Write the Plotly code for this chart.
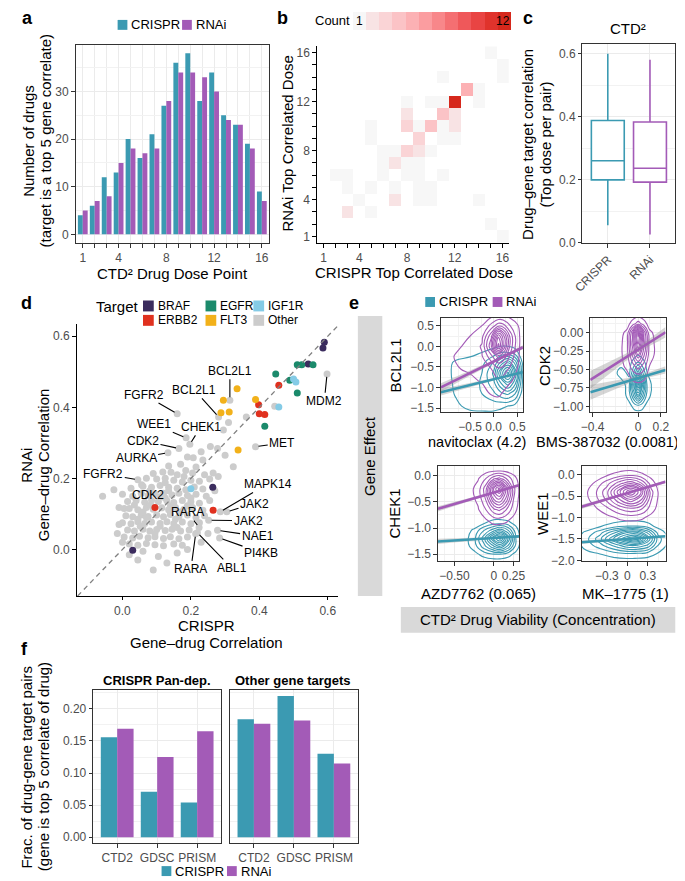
import plotly.graph_objects as go

W, H = 685, 881
FONT = "Liberation Sans, Arial, Helvetica, sans-serif"
CRISPR_COL = "#3B9AB2"
RNAI_COL = "#A35BB7"
TICK_COL = "#4D4D4D"
GRID = "#EBEBEB"
BORDER = "#333333"

# ---------------- data: panel a ----------------
dose_points = list(range(1, 17))
dose_labelled = [1, 4, 8, 12, 16]
a_crispr = [4, 6, 12, 13, 20, 16, 21, 27, 36, 38, 28, 34, 25, 23, 19, 9]
a_rnai = [5, 7, 8, 15, 18, 17, 18, 28, 34, 34, 33, 30, 24, 23, 18, 7]

# ---------------- data: panel b ----------------
b_crispr_dose = [3, 5,
                 4, 7, 9, 10, 14,
                 3, 5, 7, 9, 10,
                 2, 3, 6, 8, 9, 11,
                 6, 7, 8, 9,
                 6, 7, 8, 9, 10,
                 5, 9, 11, 12,
                 5, 8, 9, 10, 11, 12,
                 8, 11, 12,
                 8, 10, 11, 12, 14,
                 13, 14,
                 11, 16, 16, 15,
                 15, 16]
b_rnai_dose = [3, 3,
               4, 4, 4, 4, 4,
               5, 5, 5, 5, 5,
               6, 6, 6, 6, 6, 6,
               7, 7, 7, 7,
               8, 8, 8, 8, 8,
               9, 9, 9, 9,
               10, 10, 10, 10, 10, 10,
               11, 11, 11,
               12, 12, 12, 12, 12,
               13, 13,
               14, 14, 15, 16,
               2, 1]
b_count = [2, 1,
           1, 2, 1, 1, 1,
           1, 1, 1, 1, 1,
           1, 1, 1, 1, 1, 1,
           1, 2, 1, 1,
           1, 1, 3, 2, 1,
           1, 3, 1, 1,
           1, 3, 1, 4, 1, 2,
           2, 4, 2,
           1, 1, 1, 12, 1,
           5, 1,
           1, 1, 1, 1,
           1, 1]
count_palette = ["#F7F7F7", "#F8E3E4", "#FAD4D6", "#FBC3C6", "#FCB1B4", "#FB9DA0",
                 "#F8878A", "#F46F72", "#EF585A", "#E94443", "#E0332C", "#D6281C"]

# ---------------- data: panel c ----------------
box_groups = ["CRISPR", "RNAi"]
box_lower = [0.055, 0.025]
box_q1 = [0.199, 0.192]
box_median = [0.260, 0.236]
box_q3 = [0.388, 0.383]
box_upper = [0.600, 0.581]

# ---------------- data: panel d ----------------
braf_x = [0.590, 0.586, 0.543, 0.264, 0.030]
braf_y = [0.583, 0.567, 0.522, 0.175, -0.002]
egfr_x = [0.448, 0.511, 0.524, 0.557, 0.489, 0.511, 0.416]
egfr_y = [0.494, 0.520, 0.520, 0.520, 0.476, 0.440, 0.347]
igf1r_x = [0.500, 0.507, 0.457, 0.200]
igf1r_y = [0.480, 0.471, 0.401, 0.171]
erbb2_x = [0.457, 0.398, 0.400, 0.416, 0.265, 0.095]
erbb2_y = [0.462, 0.407, 0.382, 0.380, 0.110, 0.118]
flt3_x = [0.335, 0.295, 0.389, 0.288, 0.312, 0.338]
flt3_y = [0.452, 0.420, 0.422, 0.385, 0.387, 0.280]

other_xy = [
    (-0.058, 0.150), (-0.025, 0.168), (0.005, 0.115), (-0.010, 0.070), (0.000, 0.020), (-0.015, 0.045),
    (0.020, -0.015), (0.045, -0.030), (0.090, -0.058), (0.130, -0.038), (0.060, -0.005), (0.105, -0.020),
    (0.160, -0.010), (0.190, 0.000), (0.230, 0.020), (0.250, 0.045),
    (0.295, 0.336), (0.310, 0.357), (0.362, 0.373), (0.278, 0.284), (0.257, 0.290), (0.324, 0.233),
    (0.207, 0.258), (0.235, 0.252), (0.300, 0.265), (0.190, 0.260), (0.230, 0.275), (0.445, 0.403),
    (0.265, 0.215), (0.280, 0.205),
    (0.135, 0.235), (0.170, 0.240), (0.215, 0.232),
    (0.090, 0.214), (0.118, 0.218), (0.142, 0.217), (0.160, 0.210), (0.185, 0.222), (0.205, 0.215), (0.240, 0.210),
    (0.070, 0.200), (0.100, 0.198), (0.125, 0.200), (0.150, 0.195), (0.175, 0.190), (0.200, 0.195), (0.225, 0.192), (0.255, 0.198),
    (0.025, 0.172), (0.060, 0.178), (0.085, 0.175), (0.110, 0.180), (0.135, 0.175), (0.160, 0.172), (0.185, 0.168),
    (0.210, 0.176), (0.235, 0.170), (0.270, 0.165),
    (0.000, 0.155), (0.030, 0.150), (0.055, 0.158), (0.075, 0.152), (0.095, 0.157), (0.120, 0.158), (0.145, 0.153),
    (0.165, 0.158), (0.190, 0.152), (0.215, 0.155), (0.245, 0.150),
    (0.015, 0.135), (0.040, 0.138), (0.065, 0.133), (0.085, 0.138), (0.105, 0.135), (0.130, 0.137), (0.150, 0.132),
    (0.175, 0.138), (0.200, 0.134), (0.225, 0.130), (0.255, 0.138),
    (-0.010, 0.118), (0.020, 0.115), (0.045, 0.112), (0.070, 0.118), (0.090, 0.113), (0.115, 0.117), (0.135, 0.112),
    (0.155, 0.118), (0.180, 0.113), (0.205, 0.118), (0.235, 0.110),
    (0.010, 0.095), (0.030, 0.092), (0.055, 0.097), (0.075, 0.093), (0.100, 0.097), (0.120, 0.092), (0.140, 0.098),
    (0.165, 0.093), (0.190, 0.097), (0.215, 0.090), (0.240, 0.095),
    (0.000, 0.075), (0.025, 0.072), (0.045, 0.078), (0.065, 0.073), (0.085, 0.077), (0.110, 0.073), (0.130, 0.078),
    (0.150, 0.072), (0.175, 0.077), (0.200, 0.072), (0.225, 0.075),
    (0.015, 0.055), (0.035, 0.052), (0.060, 0.057), (0.080, 0.052), (0.100, 0.056), (0.125, 0.053), (0.145, 0.057),
    (0.170, 0.052), (0.195, 0.055),
    (0.005, 0.035), (0.030, 0.032), (0.050, 0.037), (0.075, 0.033), (0.095, 0.036), (0.120, 0.031), (0.140, 0.036),
    (0.165, 0.030), (0.190, 0.035),
    (0.020, 0.015), (0.045, 0.012), (0.070, 0.017), (0.095, 0.013), (0.120, 0.010), (0.150, 0.015), (0.175, 0.012),
    (0.082, 0.125), (0.125, 0.145), (0.060, 0.105), (0.170, 0.105), (0.045, 0.085), (0.110, 0.065), (0.155, 0.085),
    (0.095, 0.045), (0.135, 0.165), (0.200, 0.145), (0.035, 0.125), (0.070, 0.090), (0.140, 0.122), (0.190, 0.123),
    (0.080, 0.165), (0.110, 0.148), (0.052, 0.065), (0.160, 0.062), (0.125, 0.188), (0.180, 0.205),
]

label_genes = ["MDM2", "MET", "BCL2L1", "BCL2L1", "FGFR2", "WEE1", "CHEK1", "CDK2", "AURKA", "FGFR2",
               "CDK2", "MAPK14", "JAK2", "JAK2", "RARA", "NAE1", "PI4KB", "ABL1", "RARA"]
label_x = [0.598, 0.389, 0.314, 0.281, 0.160, 0.186, 0.197, 0.165, 0.133, 0.045,
           0.056, 0.286, 0.305, 0.252, 0.224, 0.278, 0.284, 0.219, 0.214]
label_y = [0.494, 0.289, 0.420, 0.373, 0.382, 0.314, 0.296, 0.284, 0.272, 0.196,
           0.182, 0.106, 0.106, 0.082, 0.062, 0.054, 0.032, 0.047, 0.044]

# label text placement (layout, data coordinates of panel d)
label_text_pos = [(0.590, 0.417), (0.467, 0.300), (0.314, 0.503), (0.210, 0.449), (0.062, 0.436),
                  (0.093, 0.352), (0.229, 0.345), (0.060, 0.306), (0.040, 0.257), (-0.056, 0.213),
                  (0.075, 0.152), (0.424, 0.184), (0.386, 0.129), (0.367, 0.081), (0.190, 0.105),
                  (0.395, 0.037), (0.405, -0.009), (0.319, -0.052), (0.200, -0.056)]

# ---------------- data: panel e (estimated density grids) ----------------
e_gene = ["BCL2L1", "CDK2", "CHEK1", "WEE1"]
e_drug = ["navitoclax (4.2)", "BMS-387032 (0.0081)", "AZD7762 (0.065)", "MK\u20131775 (1)"]

nav_rnai_gx = [-1.1, -0.8, -0.5, -0.25, -0.05, 0.1, 0.2, 0.35, 0.5, 0.65]
nav_rnai_gy = [-1.45, -1.15, -0.85, -0.55, -0.25, 0.0, 0.25, 0.5, 0.8]
nav_rnai_z = [
    [0, 0, 0, 0, 0, 0, 0, 0, 0, 0],
    [0, 0, 0, 0, 0.7, 0.8, 0.5, 0, 0, 0],
    [0, 0, 0.3, 0.7, 1.1, 1.3, 1.1, 0.7, 0.3, 0],
    [0, 0.5, 0.8, 1.0, 1.5, 2.2, 2.0, 1.3, 0.6, 0],
    [0, 0.7, 1.0, 1.4, 3.0, 4.5, 4.0, 2.2, 0.8, 0],
    [0, 0.4, 0.9, 1.6, 5.0, 10, 7.0, 3.0, 0.9, 0],
    [0, 0.2, 0.6, 1.2, 4.0, 8.5, 6.5, 3.0, 0.9, 0],
    [0, 0, 0.2, 0.6, 1.8, 3.0, 2.8, 1.5, 0.7, 0],
    [0, 0, 0, 0, 0, 0, 0, 0, 0, 0]]
nav_crispr_gx = [-1.1, -0.8, -0.5, -0.25, 0.0, 0.15, 0.3, 0.45, 0.62]
nav_crispr_gy = [-1.75, -1.45, -1.15, -0.9, -0.65, -0.4, -0.15, 0.1]
nav_crispr_z = [
    [0, 0, 0, 0, 0, 0, 0, 0, 0],
    [0, 0.4, 0.9, 1.0, 1.0, 0.8, 0.6, 0.3, 0],
    [0, 0.7, 1.1, 1.5, 2.2, 3.0, 3.5, 2.5, 0],
    [0, 0.8, 1.1, 1.6, 3.0, 5.0, 6.5, 4.5, 0.3],
    [0, 0.9, 1.1, 1.5, 3.5, 7.0, 10, 6.0, 0.5],
    [0, 0.8, 1.0, 1.2, 2.5, 4.5, 6.0, 4.0, 0.3],
    [0, 0, 0.3, 0.6, 1.0, 1.5, 1.5, 1.0, 0],
    [0, 0, 0, 0, 0, 0, 0, 0, 0]]

bms_rnai_gx = [-0.2, -0.1, -0.05, 0.0, 0.05, 0.1, 0.2]
bms_rnai_gy = [-0.8, -0.6, -0.45, -0.3, -0.15, 0.0, 0.12, 0.25]
bms_rnai_z = [
    [0, 0, 0, 0, 0, 0, 0],
    [0, 0.3, 0.8, 1.0, 0.8, 0.3, 0],
    [0, 0.8, 2.0, 3.0, 2.0, 0.6, 0],
    [0, 1.0, 3.5, 6.0, 3.5, 1.0, 0],
    [0, 1.0, 4.5, 9.0, 4.5, 1.0, 0],
    [0, 0.8, 4.0, 10, 4.0, 0.8, 0],
    [0, 0.2, 1.0, 2.0, 1.0, 0.2, 0],
    [0, 0, 0, 0, 0, 0, 0]]
bms_crispr_gx = [-0.22, -0.15, -0.08, -0.03, 0.0, 0.03, 0.08, 0.15]
bms_crispr_gy = [-1.15, -1.0, -0.85, -0.7, -0.55, -0.4, -0.25]
bms_crispr_z = [
    [0, 0, 0, 0, 0, 0, 0, 0],
    [0, 0, 0.3, 0.9, 1.0, 0.9, 0.3, 0],
    [0, 0, 1.0, 4.0, 6.0, 4.0, 1.0, 0],
    [0, 0, 1.2, 6.0, 10, 6.0, 1.2, 0],
    [0, 1.2, 0.3, 3.0, 5.0, 3.0, 0.6, 0],
    [0, 0, 0.3, 1.0, 1.5, 1.0, 0.3, 0],
    [0, 0, 0, 0, 0, 0, 0, 0]]

azd_rnai_gx = [-0.35, -0.2, -0.1, 0.0, 0.07, 0.15, 0.25, 0.35]
azd_rnai_gy = [-1.05, -0.85, -0.65, -0.45, -0.25, -0.05, 0.12]
azd_rnai_z = [
    [0, 0, 0, 0, 0, 0, 0, 0],
    [0, 0, 0.5, 1.0, 1.0, 0.8, 0.3, 0],
    [0, 0.5, 1.5, 3.0, 3.5, 2.5, 1.0, 0],
    [0, 0.8, 2.5, 6.0, 7.0, 5.0, 1.5, 0],
    [0, 1.0, 3.0, 8.0, 10, 6.0, 1.8, 0],
    [0, 0.5, 1.5, 3.0, 3.5, 2.5, 1.0, 0],
    [0, 0, 0, 0, 0, 0, 0, 0]]
azd_crispr_gx = [-0.4, -0.25, -0.12, 0.0, 0.08, 0.18, 0.28, 0.36]
azd_crispr_gy = [-1.65, -1.5, -1.35, -1.2, -1.05, -0.9, -0.75]
azd_crispr_z = [
    [0, 0, 0, 0, 0, 0, 0, 0],
    [0, 0.3, 1.0, 1.5, 1.5, 1.0, 0.3, 0],
    [0, 1.0, 3.0, 5.0, 6.0, 4.0, 1.2, 0],
    [0, 1.2, 4.0, 8.0, 10, 6.0, 1.5, 0],
    [0, 0.8, 2.5, 4.0, 5.0, 3.5, 1.0, 0],
    [0, 0, 0.5, 1.0, 1.0, 0.8, 0.3, 0],
    [0, 0, 0, 0, 0, 0, 0, 0]]

mk_rnai_gx = [-0.7, -0.5, -0.3, -0.1, 0.05, 0.2, 0.35, 0.5]
mk_rnai_gy = [-1.2, -1.0, -0.8, -0.6, -0.4, -0.2, 0.0, 0.2]
mk_rnai_z = [
    [0, 0, 0, 0, 0, 0, 0, 0],
    [0, 0, 0.3, 0.8, 1.0, 0.8, 0.3, 0],
    [0, 0.3, 1.2, 2.5, 3.0, 2.5, 1.0, 0],
    [0, 0.8, 2.5, 5.0, 6.5, 5.0, 1.5, 0],
    [0, 1.0, 3.0, 7.0, 10, 7.0, 1.8, 0],
    [0, 0.6, 2.0, 4.0, 5.0, 3.5, 1.0, 0],
    [0, 0, 0.5, 1.0, 1.2, 0.8, 0.3, 0],
    [0, 0, 0, 0, 0, 0, 0, 0]]
mk_crispr_gx = [-0.8, -0.6, -0.4, -0.2, 0.0, 0.15, 0.3, 0.45, 0.65]
mk_crispr_gy = [-2.05, -1.85, -1.65, -1.5, -1.35, -1.2, -1.0]
mk_crispr_z = [
    [0, 0, 0, 0, 0, 0, 0, 0, 0],
    [0, 0.3, 0.6, 1.0, 1.3, 1.2, 1.0, 0.5, 0],
    [0, 1.0, 2.0, 3.5, 5.0, 5.0, 4.0, 1.5, 0],
    [0, 1.2, 3.0, 6.0, 9.0, 10, 6.0, 2.0, 0],
    [0, 0.8, 2.0, 4.0, 6.0, 6.0, 4.0, 1.2, 0],
    [0, 0, 0.5, 1.0, 1.5, 1.5, 1.0, 0.3, 0],
    [0, 0, 0, 0, 0, 0, 0, 0, 0]]

e_rnai_intercept = [-0.37, -0.23, -0.32, -0.43]
e_rnai_slope = [0.56, 0.98, 0.44, 0.475]
e_crispr_intercept = [-0.80, -0.616, -1.19, -1.50]
e_crispr_slope = [0.28, 0.46, 0.095, 0.115]
e_center = [0.1, -0.02, 0.03, 0.0]
e_rnai_ci = [[0.10, 0.03, 0.05], [0.12, 0.03, 0.07], [0.05, 0.015, 0.03], [0.05, 0.02, 0.035]]
e_crispr_ci = [[0.08, 0.025, 0.04], [0.10, 0.025, 0.05], [0.05, 0.015, 0.025], [0.04, 0.015, 0.03]]

# ---------------- data: panel f ----------------
f_sources = ["CTD2", "GDSC", "PRISM"]
f_pan_crispr = [0.156, 0.071, 0.054]
f_pan_rnai = [0.169, 0.125, 0.165]
f_other_crispr = [0.184, 0.220, 0.130]
f_other_rnai = [0.177, 0.182, 0.115]


# ---------------- helpers ----------------
def xd(l, r):
    return [l / W, r / W]


def yd(t, b):
    return [1 - b / H, 1 - t / H]


def axis(domain, rng, anchor, box=True, grid=True, tickvals=None, ticktext=None,
         minor=None, minor_ticks=False, **kw):
    tc = BORDER if box else "black"
    d = dict(domain=domain, anchor=anchor, zeroline=False, showgrid=grid,
             gridcolor=GRID, gridwidth=1, ticks="outside", ticklen=3.5, tickwidth=1,
             tickcolor=tc, tickfont=dict(size=12, color=TICK_COL, family=FONT),
             showline=True, linecolor=tc, linewidth=1, mirror=box, fixedrange=True)
    if rng is not None:
        d["range"] = rng
    if tickvals is not None:
        d.update(tickmode="array", tickvals=tickvals)
    if ticktext is not None:
        d["ticktext"] = ticktext
    if minor is not None:
        if minor_ticks:
            d["minor"] = dict(tickmode="array", tickvals=minor, showgrid=grid, gridcolor=GRID,
                              gridwidth=1, ticks="outside", ticklen=3.5, tickwidth=1, tickcolor=tc)
        else:
            d["minor"] = dict(tickmode="array", tickvals=minor, showgrid=True,
                              gridcolor="#F2F2F2", gridwidth=0.6, ticks="")
    d.update(kw)
    return d


annotations = []
shapes = []


def txt(s, x, y, size=15, color="black", bold=False, angle=0, xanchor="center", yanchor="middle"):
    annotations.append(dict(text=f"<b>{s}</b>" if bold else s, x=x / W, y=1 - y / H,
                            xref="paper", yref="paper", showarrow=False, textangle=angle,
                            xanchor=xanchor, yanchor=yanchor, borderpad=0,
                            font=dict(size=size, color=color, family=FONT)))


def rect(x0, y0, x1, y1, color):
    shapes.append(dict(type="rect", xref="paper", yref="paper", x0=x0 / W, x1=x1 / W,
                       y0=1 - y1 / H, y1=1 - y0 / H, fillcolor=color, line=dict(width=0)))


fig = go.Figure()

# ---------------- panel a ----------------
fig.add_trace(go.Bar(x=dose_points, y=a_crispr, marker=dict(color=CRISPR_COL, line=dict(width=0)),
                     name="CRISPR", xaxis="x", yaxis="y", showlegend=False, hoverinfo="skip"))
fig.add_trace(go.Bar(x=dose_points, y=a_rnai, marker=dict(color=RNAI_COL, line=dict(width=0)),
                     name="RNAi", xaxis="x", yaxis="y", showlegend=False, hoverinfo="skip"))

# ---------------- panel b ----------------
zmat = [[None] * 16 for _ in range(16)]
for cx, cy, n in zip(b_crispr_dose, b_rnai_dose, b_count):
    zmat[cy - 1][cx - 1] = n
cscale = []
for i, c in enumerate(count_palette):
    cscale.append([i / len(count_palette), c])
    cscale.append([(i + 1) / len(count_palette), c])
fig.add_trace(go.Heatmap(
    x=dose_points, y=dose_points, z=zmat, zmin=0.5, zmax=12.5, colorscale=cscale,
    xaxis="x2", yaxis="y2", hoverinfo="skip",
    colorbar=dict(orientation="h", x=343 / W, xanchor="left", y=1 - 4 / H, yanchor="top",
                  len=162 / W, lenmode="fraction", thickness=18, thicknessmode="pixels",
                  xpad=0, ypad=0, outlinewidth=0, showticklabels=False, ticks="")))

# ---------------- panel c ----------------
for i, col in enumerate([CRISPR_COL, RNAI_COL]):
    fig.add_trace(go.Box(x=[box_groups[i]], q1=[box_q1[i]], median=[box_median[i]], q3=[box_q3[i]],
                         lowerfence=[box_lower[i]], upperfence=[box_upper[i]],
                         fillcolor="white", line=dict(color=col, width=1.6), width=0.78,
                         whiskerwidth=0, boxpoints=False, xaxis="x3", yaxis="y3",
                         showlegend=False, hoverinfo="skip"))

# ---------------- panel d ----------------
other_x = [p[0] for p in other_xy] + label_x
other_y = [p[1] for p in other_xy] + label_y
fig.add_trace(go.Scatter(x=other_x, y=other_y, mode="markers", xaxis="x4", yaxis="y4",
                         marker=dict(color="#CCCCCC", size=7), showlegend=False, hoverinfo="skip",
                         name="Other"))
d_groups = [("BRAF", braf_x, braf_y, "#3B2C5E"), ("EGFR", egfr_x, egfr_y, "#1B8A6B"),
            ("IGF1R", igf1r_x, igf1r_y, "#84CBE6"), ("ERBB2", erbb2_x, erbb2_y, "#E0311F"),
            ("FLT3", flt3_x, flt3_y, "#F2B11A")]
for name, gx, gy, col in d_groups:
    fig.add_trace(go.Scatter(x=gx, y=gy, mode="markers", xaxis="x4", yaxis="y4", name=name,
                             marker=dict(color=col, size=7), showlegend=False, hoverinfo="skip"))
d_xr = [-0.134, 0.631]
d_yr = [-0.131, 0.635]
lo = max(d_xr[0], d_yr[0])
hi = min(d_xr[1], d_yr[1])
shapes.append(dict(type="line", xref="x4", yref="y4", x0=lo, y0=lo, x1=hi, y1=hi,
                   line=dict(color="#808080", width=1.3, dash="5px,4px")))
for gene, px_, py_, (tx, ty) in zip(label_genes, label_x, label_y, label_text_pos):
    annotations.append(dict(text=gene, x=px_, y=py_, xref="x4", yref="y4", ax=tx, ay=ty,
                            axref="x4", ayref="y4", showarrow=True, arrowhead=0, arrowwidth=1.1,
                            arrowcolor="black", standoff=3,
                            font=dict(size=12, family=FONT, color="black")))

# ---------------- panel e ----------------
e_xr = [[-1.12, 0.62], [-0.42, 0.24], [-0.71, 0.32], [-0.67, 0.56]]
e_yr = [[-1.6, 0.69], [-1.08, 0.2], [-1.635, 0.19], [-2.02, 0.21]]
e_dens = [
    (nav_rnai_gx, nav_rnai_gy, nav_rnai_z, nav_crispr_gx, nav_crispr_gy, nav_crispr_z),
    (bms_rnai_gx, bms_rnai_gy, bms_rnai_z, bms_crispr_gx, bms_crispr_gy, bms_crispr_z),
    (azd_rnai_gx, azd_rnai_gy, azd_rnai_z, azd_crispr_gx, azd_crispr_gy, azd_crispr_z),
    (mk_rnai_gx, mk_rnai_gy, mk_rnai_z, mk_crispr_gx, mk_crispr_gy, mk_crispr_z),
]
for k in range(4):
    xa, ya = f"x{5 + k}", f"y{5 + k}"
    rgx, rgy, rz, cgx, cgy, cz = e_dens[k]
    for gx, gy, z, col in [(cgx, cgy, cz, CRISPR_COL), (rgx, rgy, rz, RNAI_COL)]:
        fig.add_trace(go.Contour(x=gx, y=gy, z=z, xaxis=xa, yaxis=ya, showscale=False,
                                 colorscale=[[0, col], [1, col]],
                                 contours=dict(coloring="lines", start=0.6, end=9.6, size=0.9,
                                               showlabels=False),
                                 line=dict(width=1.1, smoothing=1.3), hoverinfo="skip"))
    xs = [e_xr[k][0], e_center[k], e_xr[k][1]]
    for icpt, slope, ci, col in [(e_crispr_intercept[k], e_crispr_slope[k], e_crispr_ci[k], CRISPR_COL),
                                 (e_rnai_intercept[k], e_rnai_slope[k], e_rnai_ci[k], RNAI_COL)]:
        fit = [icpt + slope * v for v in xs]
        up = [f + w for f, w in zip(fit, ci)]
        dn = [f - w for f, w in zip(fit, ci)]
        fig.add_trace(go.Scatter(x=xs + xs[::-1], y=up + dn[::-1], fill="toself",
                                 fillcolor="rgba(150,150,150,0.40)", line=dict(width=0),
                                 mode="lines", xaxis=xa, yaxis=ya, showlegend=False, hoverinfo="skip"))
        fig.add_trace(go.Scatter(x=xs, y=fit, mode="lines", line=dict(color=col, width=2.6),
                                 xaxis=xa, yaxis=ya, showlegend=False, hoverinfo="skip"))

# ---------------- panel f ----------------
fig.add_trace(go.Bar(x=f_sources, y=f_pan_crispr, marker=dict(color=CRISPR_COL, line=dict(width=0)),
                     xaxis="x9", yaxis="y9", showlegend=False, hoverinfo="skip", name="CRISPR"))
fig.add_trace(go.Bar(x=f_sources, y=f_pan_rnai, marker=dict(color=RNAI_COL, line=dict(width=0)),
                     xaxis="x9", yaxis="y9", showlegend=False, hoverinfo="skip", name="RNAi"))
fig.add_trace(go.Bar(x=f_sources, y=f_other_crispr, marker=dict(color=CRISPR_COL, line=dict(width=0)),
                     xaxis="x10", yaxis="y10", showlegend=False, hoverinfo="skip", name="CRISPR"))
fig.add_trace(go.Bar(x=f_sources, y=f_other_rnai, marker=dict(color=RNAI_COL, line=dict(width=0)),
                     xaxis="x10", yaxis="y10", showlegend=False, hoverinfo="skip", name="RNAi"))

# ---------------- layout axes ----------------
M = "\u2212"
dose_unlabelled = [d for d in dose_points if d not in dose_labelled]
lay = dict(
    xaxis=axis(xd(59, 257), [0.4, 16.6], "y", tickvals=dose_labelled, minor=dose_unlabelled,
               minor_ticks=True),
    yaxis=axis(yd(37, 237), [-1.9, 39.8], "x", tickvals=[0, 10, 20, 30], minor=[5, 15, 25, 35]),
    xaxis2=axis(xd(306, 503), [0.43, 16.57], "y2", box=False, grid=False, tickvals=dose_labelled,
                minor=dose_unlabelled, minor_ticks=True),
    yaxis2=axis(yd(38, 237), [0.43, 16.57], "x2", box=False, grid=False, tickvals=dose_labelled,
                minor=dose_unlabelled, minor_ticks=True),
    xaxis3=axis(xd(578, 673), [-0.6, 1.6], "y3", type="category", categoryorder="array",
                categoryarray=box_groups, tickangle=-45),
    yaxis3=axis(yd(36, 237), [-0.003, 0.632], "x3", tickvals=[0, 0.2, 0.4, 0.6], tickformat=".1f",
                minor=[0.1, 0.3, 0.5]),
    xaxis4=axis(xd(60, 328), d_xr, "y4", box=False, grid=False, tickvals=[0, 0.2, 0.4, 0.6],
                tickformat=".1f"),
    yaxis4=axis(yd(318, 592), d_yr, "x4", box=False, grid=False, tickvals=[0, 0.2, 0.4, 0.6],
                tickformat=".1f"),
    xaxis5=axis(xd(433, 517), e_xr[0], "y5", tickvals=[-0.5, 0, 0.5], ticktext=[M + "0.5", "0.0", "0.5"],
                minor=[-0.75, -0.25, 0.25]),
    yaxis5=axis(yd(312, 407), e_yr[0], "x5", tickvals=[-1.5, -1, -0.5, 0, 0.5],
                ticktext=[M + "1.5", M + "1.0", M + "0.5", "0.0", "0.5"], minor=[-1.25, -0.75, -0.25, 0.25]),
    xaxis6=axis(xd(586, 663), e_xr[1], "y6", tickvals=[-0.4, 0, 0.2], ticktext=[M + "0.4", "0", "0.2"],
                minor=[-0.3, -0.2, -0.1, 0.1]),
    yaxis6=axis(yd(312, 407), e_yr[1], "x6", tickvals=[-1, -0.75, -0.5, -0.25, 0],
                ticktext=[M + "1.00", M + "0.75", M + "0.50", M + "0.25", "0.00"],
                minor=[-0.875, -0.625, -0.375, -0.125, 0.125]),
    xaxis7=axis(xd(430, 513), e_xr[2], "y7", tickvals=[-0.5, 0, 0.25], ticktext=[M + "0.50", "0", "0.25"],
                minor=[-0.625, -0.375, -0.25, -0.125, 0.125]),
    yaxis7=axis(yd(461, 557), e_yr[2], "x7", tickvals=[-1.5, -1, -0.5, 0],
                ticktext=[M + "1.5", M + "1.0", M + "0.5", "0.0"], minor=[-1.25, -0.75, -0.25]),
    xaxis8=axis(xd(577, 663), e_xr[3], "y8", tickvals=[-0.3, 0, 0.3], ticktext=[M + "0.3", "0", "0.3"],
                minor=[-0.45, -0.15, 0.15, 0.45]),
    yaxis8=axis(yd(461, 557), e_yr[3], "x8", tickvals=[-2, -1.5, -1, -0.5, 0],
                ticktext=[M + "2.0", M + "1.5", M + "1.0", M + "0.5", "0.0"],
                minor=[-1.75, -1.25, -0.75, -0.25]),
    xaxis9=axis(xd(77, 208), [-0.6, 2.6], "y9", type="category", categoryorder="array",
                categoryarray=f_sources),
    yaxis9=axis(yd(687, 841), [-0.0095, 0.229], "x9", tickvals=[0, 0.05, 0.1, 0.15, 0.2],
                tickformat=".2f", minor=[0.025, 0.075, 0.125, 0.175, 0.225]),
    xaxis10=axis(xd(217, 348), [-0.6, 2.6], "y10", type="category", categoryorder="array",
                 categoryarray=f_sources),
    yaxis10=axis(yd(687, 841), [-0.0095, 0.229], "x10", tickvals=[0, 0.05, 0.1, 0.15, 0.2],
                 showticklabels=False, ticks="", minor=[0.025, 0.075, 0.125, 0.175, 0.225]),
)

# ---------------- text & legend keys ----------------
for letter, lx, ly in [("a", 10, 10), ("b", 271, 10), ("c", 522, 10), ("d", 9, 297), ("e", 344, 297),
                       ("f", 7, 645)]:
    txt(letter, lx, ly, size=18, bold=True)

# a
rect(102, 12, 112, 22, CRISPR_COL)
txt("CRISPR", 115, 17, size=13, xanchor="left")
rect(168, 12, 178, 22, RNAI_COL)
txt("RNAi", 181, 17, size=13, xanchor="left")
txt("Number of drugs", 10, 134, angle=-90)
txt("(target is a top 5 gene correlate)", 28, 134, angle=-90)
txt("CTD\u00b2 Drug Dose Point", 158, 267)

# b
txt("Count", 322, 13, size=13)
txt("1", 350, 13, size=12)
txt("12", 497, 13, size=12)
txt("RNAi Top Correlated Dose", 276, 137, angle=-90)
txt("CRISPR Top Correlated Dose", 405, 266)

# c
txt("CTD\u00b2", 625, 21)
txt("Drug\u2013gene target correlation", 521, 137, angle=-90)
txt("(Top dose per pair)", 540, 137, angle=-90)

# d
txt("Target", 79, 301, xanchor="left")
d_keys = [("BRAF", "#3B2C5E", 128, 300), ("EGFR", "#1B8A6B", 192, 300), ("IGF1R", "#84CBE6", 241, 300),
          ("ERBB2", "#E0311F", 128, 314.5), ("FLT3", "#F2B11A", 192, 314.5), ("Other", "#CCCCCC", 241, 314.5)]
for name, col, kx, ky in d_keys:
    rect(kx, ky - 5.5, kx + 11, ky + 5.5, col)
    txt(name, kx + 14, ky, size=12, xanchor="left")
txt("RNAi", 9, 460, angle=-90)
txt("Gene\u2013drug Correlation", 26, 460, angle=-90)
txt("CRISPR", 193, 622)
txt("Gene\u2013drug Correlation", 193, 639)

# e
rect(417, 291, 427, 301, CRISPR_COL)
txt("CRISPR", 430, 296, size=13, xanchor="left")
rect(486, 291, 496, 301, RNAI_COL)
txt("RNAi", 499, 296, size=13, xanchor="left")
rect(348, 310, 373, 592, "#D9D9D9")
txt("Gene Effect", 360.5, 451, angle=-90)
rect(392, 603, 673, 629, "#D9D9D9")
txt("CTD\u00b2 Drug Viability (Concentration)", 532, 616)
e_ylab_pos = [(387, 360), (539, 360), (386, 509), (537, 509)]
e_xlab_pos = [(470, 437), (604, 437), (472, 590), (622, 590)]
for k in range(4):
    txt(e_gene[k], e_ylab_pos[k][0], e_ylab_pos[k][1], angle=-90)
    txt(e_drug[k], e_xlab_pos[k][0], e_xlab_pos[k][1], size=14.5 if k < 2 else 15)

# f
txt("CRISPR Pan-dep.", 142, 677, size=13, bold=True)
txt("Other gene targets", 282, 677, size=13, bold=True)
txt("Frac. of drug-gene target pairs", 9, 764, angle=-90)
txt("(gene is top 5 correlate of drug)", 26, 764, angle=-90)
rect(147, 864, 157, 874, CRISPR_COL)
txt("CRISPR", 160, 869, size=13, xanchor="left")
rect(214, 864, 224, 874, RNAI_COL)
txt("RNAi", 227, 869, size=13, xanchor="left")

fig.update_layout(
    width=W, height=H, margin=dict(l=0, r=0, t=0, b=0),
    paper_bgcolor="white", plot_bgcolor="white",
    font=dict(family=FONT, size=12, color="black"),
    barmode="group", bargap=0.18, bargroupgap=0,
    showlegend=False, hovermode=False,
    annotations=annotations, shapes=shapes,
    **lay,
)

fig.write_html("out.html")
